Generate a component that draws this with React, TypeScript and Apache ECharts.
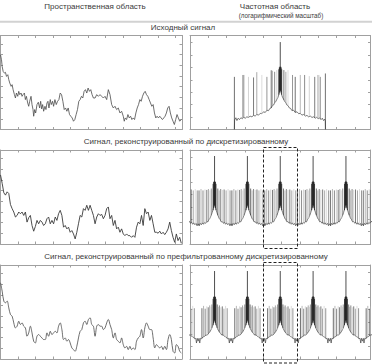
import React, { useEffect, useRef } from "react";
import * as echarts from "echarts";

// ---------- texts ----------
const headerSpatial = "Пространственная область";
const headerFreq = "Частотная область";
const headerFreqSub = "(логарифмический масштаб)";
const rowTitles = [
  "Исходный сигнал",
  "Сигнал, реконструированный по дискретизированному",
  "Сигнал, реконструированный по префильтрованному дискретизированному",
];

// ---------- spatial domain (amplitude 0..100, sample index) ----------
const originalSignal: [number, number][] = [
  [0, 79.5], [0.6, 74.2], [1, 67.1], [1.6, 61.8], [2.4, 60], [3, 60.8], [3.6, 56.5], [4.4, 58.3], [5, 53], [5.6, 49.4],
  [6.4, 45.9], [7, 47.7], [7.6, 42.4], [8.4, 37.1], [9, 33.5], [9.6, 38.8], [10.4, 35.3], [11, 40.6], [11.6, 37.1], [12.4, 38.8],
  [13, 35.3], [13.6, 37.1], [14.4, 38.8], [15, 31.8], [15.6, 35.3], [16.4, 28.2], [17, 24.7], [17.6, 30], [18.4, 35.3], [19, 26.5],
  [19.6, 21.2], [20, 14.1], [20.6, 21.2], [21.2, 17.6], [22, 26.5], [22.8, 29], [23.6, 22.9], [24.2, 30], [24.8, 21.9], [25.4, 26.5],
  [26, 19.4], [26.8, 24.7], [27.4, 21.2], [28, 28.2], [28.6, 30], [29.2, 22.9], [30, 31.8], [30.6, 26.5], [31.4, 30], [32, 24.7],
  [32.8, 31.8], [33.6, 26.5], [34.4, 30], [35.2, 31.8], [36, 38.8], [36.8, 37.1], [37.6, 30], [38.4, 21.2], [39.2, 22.9], [40, 19.4],
  [40.8, 22.9], [41.6, 15.9], [42.4, 14.1], [43.2, 12.3], [44, 8.8], [44.8, 10.6], [45.6, 15.9], [46.4, 21.2], [47.2, 30], [48, 31.8],
  [48.8, 35.3], [49.6, 33.5], [50.4, 40.6], [51.2, 42.4], [52, 38.8], [52.8, 44.1], [53.6, 40.6], [54.4, 42.4], [55.2, 37.1], [56, 33.5],
  [57, 33.5], [58, 37.1], [59, 35.3], [60, 37.1], [61, 35.3], [62, 33.5], [63, 35.3], [64, 31.8], [65, 42.4], [66, 37.1],
  [67, 26.5], [68, 22.9], [69, 24.7], [70, 21.2], [71, 22.9], [72, 17.6], [73, 19.4], [74, 14.1], [74.6, 8.8], [75.2, 12.3],
  [76, 10.6], [76.8, 15.9], [77.6, 12.3], [78.4, 14.1], [79.2, 10.6], [80, 12.3], [80.8, 10.6], [81.6, 17.6], [82.4, 22.9], [83.2, 26.5],
  [84, 31.8], [84.8, 30], [85.6, 35.3], [86.4, 38.8], [87.2, 40.6], [88, 37.1], [88.8, 35.3], [89.6, 31.8], [90.4, 28.2], [91.2, 24.7],
  [92, 26.5], [92.8, 17.6], [93.6, 12.3], [94.4, 14.1], [95.2, 12.3], [96, 14.1], [96.8, 12.3], [97.6, 10.6], [98.4, 12.3], [99.2, 14.1],
  [100, 17.6], [100.8, 22.9], [101.6, 24.7], [102.4, 17.6], [103.2, 12.3], [104, 8.8], [104.8, 5.3], [105.6, 10.6], [106.4, 15.9], [107.2, 12.3],
  [108, 8.8], [109, 10.6],
];

const sampledSignal: number[] = [
  73.5, 64.5, 54.5, 52, 55.5, 53.7, 42, 37.6, 34, 28.7,
  30.4, 34, 32.2, 34, 30.4, 34, 23.3, 28, 30.4, 19.7,
  13.6, 18.6, 25.1, 21.5, 25.1, 23.3, 19.7, 21.5, 26.9, 28.7,
  21.5, 25.1, 21.5, 28.7, 25.1, 32.2, 35.8, 30.4, 17.9, 19.7,
  16.1, 17.9, 12.5, 14.3, 10.7, 5.4, 12.5, 21.5, 30.4, 28.7,
  37.6, 35.8, 41.2, 35.8, 41.2, 35.8, 30.4, 21.5, 28.7, 32.2,
  30.4, 31.5, 26.9, 30.4, 37.6, 39.4, 26.9, 30.4, 19.7, 25.1,
  16.1, 17.9, 12.5, 16.1, 10.7, 8.9, 10.7, 8.9, 8.9, 7.1,
  8.9, 7.1, 17.9, 23.3, 21.5, 30.4, 19.7, 37.6, 32.2, 34,
  25.1, 30.4, 21.5, 12.5, 12.5, 11.5, 13.6, 10.7, 12.5, 10,
  12.5, 16.1, 23.3, 14.3, 7.1, 1.8, 10.7, 3.6, 7.1, 0.7,
];

const prefilteredSignal: number[] = [
  81.1, 72.2, 61.6, 59.8, 61.6, 54.4, 47.3, 45.6, 38.4, 33.1,
  34.9, 40.2, 36.7, 38.4, 34.9, 33.1, 24.2, 27.8, 34.9, 27.8,
  18.9, 17.1, 24.2, 26, 24.2, 22.4, 20.7, 20.7, 27.8, 24.2,
  29.5, 26, 27.8, 29.5, 27.8, 34.9, 38.4, 31.3, 20.7, 22.4,
  18.9, 20.7, 17.1, 11.8, 10, 8.2, 13.5, 22.4, 29.5, 31.3,
  38.4, 40.2, 36.7, 42, 43.8, 36.7, 34.9, 24.2, 34.9, 36.7,
  34.9, 34.9, 31.3, 33.1, 38.4, 42, 36.7, 31.3, 22.4, 27.8,
  20.7, 18.9, 17.1, 22.4, 15.3, 11.8, 13.5, 10, 13.5, 10,
  11.8, 10, 18.9, 22.4, 24.2, 31.3, 22.4, 33.1, 38.4, 34.9,
  31.3, 31.3, 22.4, 11.8, 15.3, 13.5, 11.8, 13.5, 10, 13.5,
  10, 20.7, 26, 20.7, 8.2, 6.4, 15.3, 13.5, 8.2, 6.4,
];

// ---------- frequency domain (log magnitude 0..100, frequency 0..100) ----------
const originalSpectrumBase: [number, number][] = [
  [24.6, 0], [24.7, 10], [25.4, 12.5], [26.0, 9.5], [26.7, 12], [27.4, 10.5], [28.2, 12.5], [29.0, 11.5], [29.8, 13], [30.6, 12],
  [31.5, 13.5], [32.4, 12.8], [33.3, 14.2], [34.3, 13.5], [35.2, 15], [36.1, 14.3], [37.0, 16], [38.0, 15.3], [38.9, 17.2], [39.8, 16.8],
  [40.7, 18.8], [41.7, 18.2], [42.6, 20.5], [43.5, 20], [44.3, 22.5], [45.0, 23], [45.7, 25.5], [46.3, 26], [46.9, 28.5], [47.6, 30],
  [48.2, 32.5], [48.7, 34], [49.2, 37], [49.6, 40], [50.0, 42], [50.4, 40], [50.8, 37], [51.3, 34], [51.8, 32.5], [52.4, 30],
  [53.1, 28.5], [53.7, 26], [54.3, 25.5], [55.0, 23], [55.7, 22.5], [56.5, 20], [57.4, 20.5], [58.3, 18.2], [59.3, 18.8], [60.2, 16.8],
  [61.1, 17.2], [62.0, 15.3], [63.0, 16], [63.9, 14.3], [64.8, 15], [65.7, 13.5], [66.7, 14.2], [67.6, 12.8], [68.5, 13.5], [69.4, 12],
  [70.2, 13], [71.0, 11.5], [71.8, 12.5], [72.6, 10.5], [73.3, 12], [74.0, 9.5], [74.6, 11], [75.0, 9], [75.1, 0],
];
// [frequency, low, high]
const originalSideSpikes: [number, number, number][] = [
  [24.6, 0, 56], [29.1, 11.5, 58], [29.8, 13, 58], [32.4, 12.8, 56], [35.2, 15, 55.4], [37.0, 16, 61], [39.8, 16.8, 58],
  [42.6, 20.5, 56], [45.0, 23, 63], [45.7, 25.5, 62.5], [46.9, 28.5, 61.4], [48.1, 32, 63.2], [52.0, 31.5, 63.2],
  [53.1, 28.5, 61.4], [54.3, 25.5, 63.2], [56.8, 20.5, 58], [58.3, 18.2, 56], [61.1, 17.2, 58], [63.5, 15.5, 58],
  [66.1, 14, 56.8], [69.1, 12.5, 56], [70.9, 12.5, 58], [71.5, 12, 58], [72.2, 11, 56], [75.0, 0, 59.6],
];
const originalClusterSpikes: [number, number, number][] = [
  [49.2, 37, 64], [49.5, 39.5, 66], [49.75, 41.5, 66.8], [50.0, 42, 93],
  [50.25, 41.5, 66.8], [50.5, 39.5, 66], [50.8, 37, 64],
];

// spectral replica centres of the sampled signals
const replicaCenters = [-4.6, 13.6, 31.8, 50, 68.2, 86.4, 104.6];

// one period, [offset from replica centre, value]
const sampledPeriodBase: [number, number][] = [
  [-9.1, 21.5], [-8.5, 19.5], [-7.9, 22], [-7.3, 20.5], [-6.7, 22.5], [-6.1, 21], [-5.5, 23], [-4.9, 22], [-4.3, 24], [-3.7, 23.5],
  [-3.1, 26], [-2.5, 27.5], [-1.9, 30.5], [-1.3, 33.5], [-0.7, 37.5], [0, 42], [0.7, 37.5], [1.3, 33.5], [1.9, 30.5], [2.5, 27.5],
  [3.1, 26], [3.7, 23.5], [4.3, 24], [4.9, 22], [5.5, 23], [6.1, 21], [6.7, 22.5], [7.3, 20.5], [7.9, 22], [8.5, 19.5], [9.1, 21.5],
];
const sampledPeriodSideSpikes: [number, number, number][] = [
  [-8.6, 19.5, 57], [-7.5, 21, 58.5], [-6.4, 21.5, 57], [-5.3, 22.5, 58], [-4.3, 24, 57.5], [-3.4, 25, 58.5],
  [-2.6, 27, 57], [-1.8, 30.5, 59], [1.8, 30.5, 59], [2.6, 27, 57], [3.4, 25, 58.5], [4.3, 24, 57.5],
  [5.3, 22.5, 58], [6.4, 21.5, 57], [7.5, 21, 58.5], [8.6, 19.5, 57],
];
const sampledPeriodClusterSpikes: [number, number, number][] = [
  [-0.8, 36, 64], [-0.5, 38.5, 66], [-0.25, 41, 66.5], [0, 42, 93.6],
  [0.25, 41, 66.5], [0.5, 38.5, 66], [0.8, 36, 64],
];

const prefilteredPeriodBase: [number, number][] = [
  [-9.1, 19], [-8.6, 22], [-8.2, 17], [-7.8, 22], [-7.2, 21.5], [-6.4, 23.5], [-5.6, 24], [-4.8, 25.5], [-4.0, 25.5], [-3.2, 27.5],
  [-2.4, 29.5], [-1.6, 32.5], [-0.8, 37], [0, 42], [0.8, 37], [1.6, 32.5], [2.4, 29.5], [3.2, 27.5], [4.0, 25.5], [4.8, 25.5],
  [5.6, 24], [6.4, 23.5], [7.2, 21.5], [7.8, 22], [8.2, 17], [8.6, 22], [9.1, 19],
];
const prefilteredPeriodSideSpikes: [number, number, number][] = [
  [-7.0, 22, 54], [-6.1, 23.5, 56.5], [-5.2, 24.5, 53.5], [-4.3, 25.5, 56], [-3.5, 27, 55], [-2.7, 28.5, 57],
  [-2.0, 31, 55.5], [-1.5, 33, 58], [1.5, 33, 58], [2.0, 31, 55.5], [2.7, 28.5, 57], [3.5, 27, 55],
  [4.3, 25.5, 56], [5.2, 24.5, 53.5], [6.1, 23.5, 56.5], [7.0, 22, 54],
];
const prefilteredPeriodClusterSpikes: [number, number, number][] = [
  [-0.8, 36, 64], [-0.5, 38.5, 66], [-0.25, 41, 66.5], [0, 42, 93.6],
  [0.25, 41, 66.5], [0.5, 38.5, 66], [0.8, 36, 64],
];

// ---------- helpers ----------
const tile = (period: number[][]) =>
  replicaCenters.flatMap((c) => period.map((p) => [c + p[0], ...p.slice(1)]));

const FRAME = "#a0a0a0";
const FONT = "'Liberation Sans', Arial, sans-serif";
const spikeShades = ["#333", "#9a9a9a", "#5a5a5a", "#c2c2c2", "#444", "#848484", "#cfcfcf", "#686868"];

const rowTops = [35.5, 150, 265];
const rowHeight = 94;
const leftPanel = { left: 0.5, width: 181.5 };
const rightPanel = { left: 190, width: 180.5 };

function buildOption() {
  const grid: any[] = [];
  const xAxis: any[] = [];
  const yAxis: any[] = [];
  const series: any[] = [];

  const frameAxis = (g: number, pos: string, min: number, max: number, interval: number) => ({
    type: "value", gridIndex: g, position: pos, min, max, interval,
    axisLine: { show: true, onZero: false, lineStyle: { color: FRAME, width: 1 } },
    axisTick: { show: true, inside: true, length: 2.5, lineStyle: { color: FRAME, width: 1 } },
    axisLabel: { show: false }, splitLine: { show: false },
  });

  for (let r = 0; r < 3; r++) {
    for (let c = 0; c < 2; c++) {
      const g = r * 2 + c;
      const panel = c === 0 ? leftPanel : rightPanel;
      grid.push({ left: panel.left, top: rowTops[r], width: panel.width, height: rowHeight, containLabel: false });
      // data axes
      xAxis.push({ type: "value", gridIndex: g, position: "bottom", min: 0, max: c === 0 ? 109.4 : 100, show: false });
      yAxis.push({ type: "value", gridIndex: g, position: "left", min: 0, max: 100, show: false });
      // frame axes (ticks only)
      if (c === 0) {
        xAxis.push(frameAxis(g, "bottom", -16.7, -16.7 + panel.width, 17.5));
        xAxis.push(frameAxis(g, "top", -16.7, -16.7 + panel.width, 17.5));
        yAxis.push(frameAxis(g, "left", -9.3, -9.3 + rowHeight, 10.7));
        yAxis.push(frameAxis(g, "right", -9.3, -9.3 + rowHeight, 10.7));
      } else {
        xAxis.push(frameAxis(g, "bottom", -16.7, -16.7 + panel.width, 18.33));
        xAxis.push(frameAxis(g, "top", -16.7, -16.7 + panel.width, 18.33));
        yAxis.push(frameAxis(g, "left", -5.9, -5.9 + rowHeight, 12.4));
        yAxis.push(frameAxis(g, "right", -5.9, -5.9 + rowHeight, 12.4));
      }
    }
  }
  const ax = (g: number) => ({ xAxisIndex: g * 3, yAxisIndex: g * 3 });

  const lineSeries = (g: number, data: any[], color: string, width: number, smooth: number | boolean = false) => ({
    type: "line", ...ax(g), data, symbol: "none", showSymbol: false, smooth,
    lineStyle: { color, width }, silent: true, clip: true, z: 3,
  });

  const spikeSeries = (g: number, data: any[], cluster: boolean) => ({
    type: "custom", ...ax(g), data, clip: true, silent: true, z: cluster ? 5 : 4,
    encode: { x: 0, y: [1, 2] },
    renderItem: (params: any, api: any) => {
      const x = api.value(0);
      const p1 = api.coord([x, api.value(1)]);
      const p2 = api.coord([x, api.value(2)]);
      return {
        type: "line",
        shape: { x1: p1[0], y1: p1[1], x2: p2[0], y2: p2[1] },
        style: {
          stroke: cluster ? "#141414" : spikeShades[params.dataIndex % spikeShades.length],
          lineWidth: cluster ? 0.75 : 0.7,
        },
      };
    },
  });

  // spatial
  series.push(lineSeries(0, originalSignal, "#4a4a4a", 0.8));
  series.push(lineSeries(2, sampledSignal.map((v, i) => [i, v]), "#3a3a3a", 0.9));
  series.push(lineSeries(4, prefilteredSignal.map((v, i) => [i, v]), "#4a4a4a", 0.8, 0.35));

  // frequency
  series.push(spikeSeries(1, originalSideSpikes, false));
  series.push(lineSeries(1, originalSpectrumBase, "#444", 0.7));
  series.push(spikeSeries(1, originalClusterSpikes, true));

  series.push(spikeSeries(3, tile(sampledPeriodSideSpikes), false));
  series.push(lineSeries(3, tile(sampledPeriodBase), "#444", 0.7));
  series.push(spikeSeries(3, tile(sampledPeriodClusterSpikes), true));

  series.push(spikeSeries(5, tile(prefilteredPeriodSideSpikes), false));
  series.push(lineSeries(5, tile(prefilteredPeriodBase), "#444", 0.7));
  series.push(spikeSeries(5, tile(prefilteredPeriodClusterSpikes), true));

  const text = (t: string, x: number, y: number, size: number) => ({
    type: "text", x, y, silent: true, z: 10,
    style: { text: t, fontSize: size, fontFamily: FONT, fill: "#3a3a3a", align: "center", verticalAlign: "middle" },
  });

  const graphic: any[] = [
    text(headerSpatial, 95, 6.5, 8),
    text(headerFreq, 275, 6, 8),
    text(headerFreqSub, 281, 15.5, 6.3),
    { type: "line", silent: true, shape: { x1: 0, y1: 21.7, x2: 372, y2: 21.7 }, style: { stroke: "#d2d2d2", lineWidth: 2 } },
    text(rowTitles[0], 183, 27.8, 8),
    text(rowTitles[1], 186, 141, 8),
    text(rowTitles[2], 186, 256, 8),
    {
      type: "rect", silent: true, z: 20,
      shape: { x: 263.5, y: 147.5, width: 34, height: 101 },
      style: { fill: "none", stroke: "#222", lineWidth: 1, lineDash: [3, 2] },
    },
    {
      type: "rect", silent: true, z: 20,
      shape: { x: 263.5, y: 262.5, width: 34, height: 100.5 },
      style: { fill: "none", stroke: "#222", lineWidth: 1, lineDash: [3, 2] },
    },
  ];

  return { animation: false, backgroundColor: "#fff", grid, xAxis, yAxis, series, graphic };
}

export default function App() {
  const ref = useRef<HTMLDivElement>(null);
  useEffect(() => {
    if (!ref.current) return;
    const chart = echarts.init(ref.current, null, { renderer: "svg" });
    chart.setOption(buildOption() as any);
    return () => chart.dispose();
  }, []);
  return (
    <div
      ref={ref}
      style={{ position: "fixed", left: 0, top: 0, width: 372, height: 364, background: "#fff" }}
    />
  );
}
